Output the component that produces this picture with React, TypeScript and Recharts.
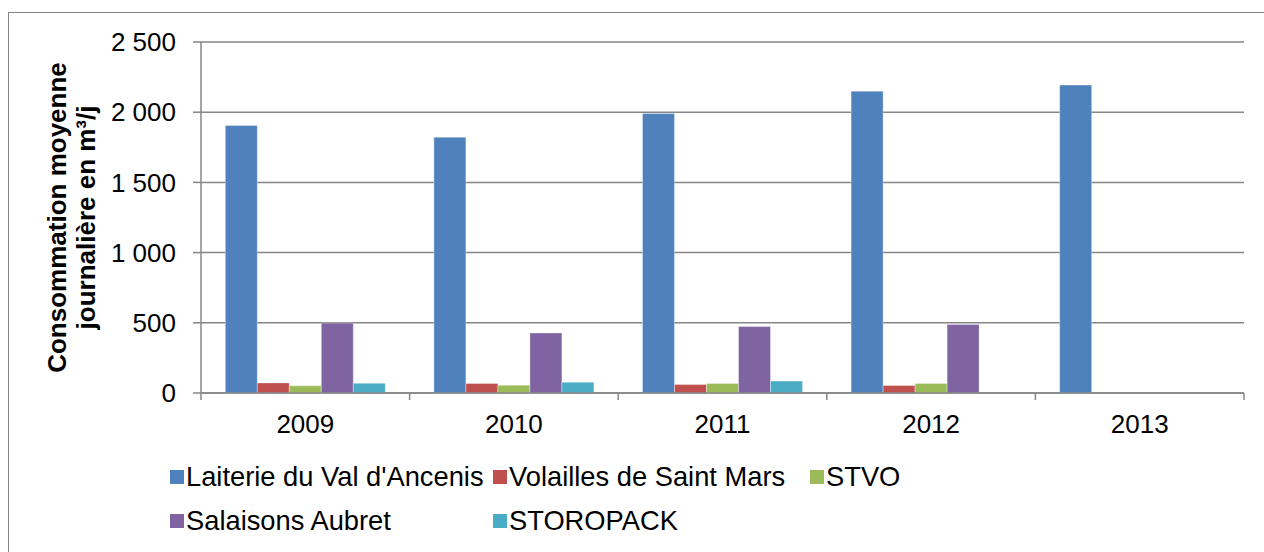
import React from 'react';
import { BarChart, Bar, XAxis, YAxis, CartesianGrid } from 'recharts';

const years = ['2009', '2010', '2011', '2012', '2013'];
const laiterie = [1905, 1822, 1990, 2150, 2193];
const volailles = [72, 68, 60, 53, null];
const stvo = [51, 56, 68, 68, null];
const salaisons = [498, 428, 473, 488, null];
const storopack = [70, 77, 85, null, null];
const yTicks = [0, 500, 1000, 1500, 2000, 2500];

const seriesNames = [
  "Laiterie du Val d'Ancenis",
  'Volailles de Saint Mars',
  'STVO',
  'Salaisons Aubret',
  'STOROPACK',
];
const seriesKeys = ['laiterie', 'volailles', 'stvo', 'salaisons', 'storopack'];
const seriesColors = ['#4F81BD', '#C0504D', '#9BBB59', '#8064A2', '#4BACC6'];
const seriesValues = [laiterie, volailles, stvo, salaisons, storopack];

const data = years.map((y, i) => {
  const row: any = { year: y };
  seriesKeys.forEach((k, j) => {
    row[k] = seriesValues[j][i];
  });
  return row;
});

const FONT = '"Liberation Sans", Arial, sans-serif';
const GRAY = '#868686';

const fmt = (v: number) => {
  const s = String(v);
  return s.replace(/\B(?=(\d{3})+(?!\d))/g, ' ');
};

const XTick = (props: any) => {
  const { x, y, payload, index, visibleTicksCount } = props;
  const off = payload.offset || 0;
  const axisY = y - 22;
  const last = index === (visibleTicksCount ?? years.length) - 1;
  return (
    <g>
      <line x1={x - off} x2={x - off} y1={axisY} y2={axisY + 7} stroke={GRAY} strokeWidth={1.5} />
      {last && (
        <line x1={x + off} x2={x + off} y1={axisY} y2={axisY + 7} stroke={GRAY} strokeWidth={1.5} />
      )}
      <text x={x} y={y} dy="0.71em" textAnchor="middle" fill="#000" fontSize={26} fontFamily={FONT}>
        {payload.value}
      </text>
    </g>
  );
};

const YLabel = (props: any) => {
  const vb = props.viewBox || {};
  const cy = (vb.y ?? 42) + (vb.height ?? 351) / 2;
  const x1 = 66;
  const x2 = 95;
  return (
    <g>
      <text
        x={x1}
        y={cy}
        transform={`rotate(-90, ${x1}, ${cy})`}
        textAnchor="middle"
        fontSize={26}
        fontWeight="bold"
        fontFamily={FONT}
        fill="#000"
      >
        Consommation moyenne
      </text>
      <text
        x={x2}
        y={cy}
        transform={`rotate(-90, ${x2}, ${cy})`}
        textAnchor="middle"
        fontSize={26}
        fontWeight="bold"
        fontFamily={FONT}
        fill="#000"
      >
        journalière en m³/j
      </text>
    </g>
  );
};

const legendCols = [170, 493, 810];
const legendRows = [477, 521];

export default function App() {
  return (
    <div
      style={{
        position: 'fixed',
        left: 0,
        top: 0,
        width: 1264,
        height: 552,
        overflow: 'hidden',
        background: '#fff',
        fontFamily: FONT,
      }}
    >
      <div
        style={{
          position: 'absolute',
          left: 8,
          top: 12,
          width: 1300,
          height: 600,
          borderLeft: `1.5px solid ${GRAY}`,
          borderTop: `1.5px solid ${GRAY}`,
        }}
      />
      <div style={{ position: 'absolute', left: 0, top: 0 }}>
        <BarChart
          width={1264}
          height={552}
          data={data}
          margin={{ top: 42, right: 20, left: 111, bottom: 119 }}
          barCategoryGap="11.65%"
          barGap={0}
        >
          <CartesianGrid vertical={false} stroke={GRAY} strokeWidth={1.5} />
          <XAxis
            dataKey="year"
            height={40}
            tickLine={false}
            tickSize={7}
            tickMargin={15}
            axisLine={{ stroke: GRAY, strokeWidth: 1.5 }}
            tick={<XTick />}
            interval={0}
          />
          <YAxis
            width={90}
            domain={[0, 2500]}
            ticks={yTicks}
            tickFormatter={fmt}
            tickSize={8}
            tickMargin={17}
            axisLine={{ stroke: GRAY, strokeWidth: 1.5 }}
            tickLine={{ stroke: GRAY, strokeWidth: 1.5 }}
            tick={{ fill: '#000', fontSize: 26, fontFamily: FONT }}
            label={{ content: <YLabel /> }}
          />
          {seriesKeys.map((k, j) => (
            <Bar
              key={k}
              dataKey={k}
              name={seriesNames[j]}
              fill={seriesColors[j]}
              stroke="rgba(255,255,255,0.35)"
              strokeWidth={1}
              isAnimationActive={false}
            />
          ))}
        </BarChart>
      </div>
      {seriesNames.map((n, j) => {
        const col = legendCols[j % 3];
        const row = legendRows[Math.floor(j / 3)];
        return (
          <div
            key={n}
            style={{
              position: 'absolute',
              left: col,
              top: row - 16,
              height: 32,
              display: 'flex',
              alignItems: 'center',
              whiteSpace: 'nowrap',
              fontSize: 27.3,
              color: '#000',
            }}
          >
            <span
              style={{
                display: 'inline-block',
                width: 14,
                height: 14,
                background: seriesColors[j],
                marginRight: 2,
              }}
            />
            <span>{n}</span>
          </div>
        );
      })}
    </div>
  );
}
